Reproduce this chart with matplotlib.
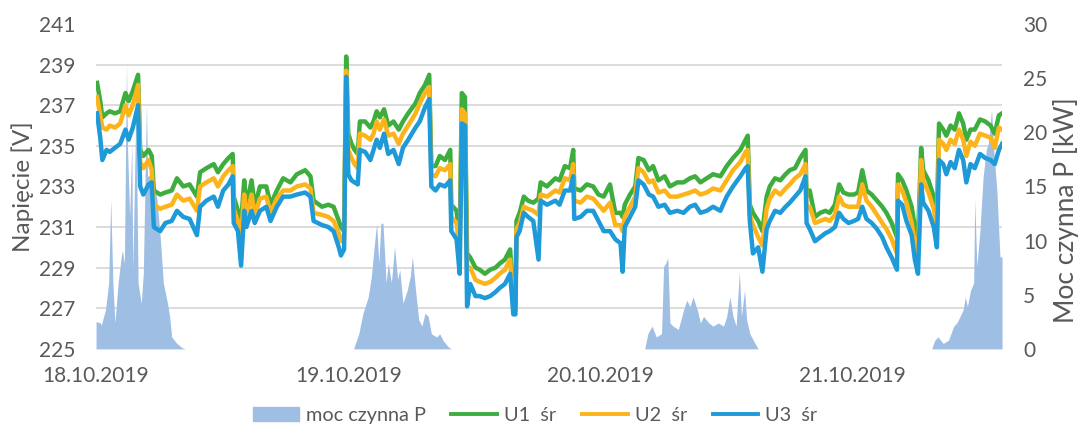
import numpy as np
import matplotlib
matplotlib.use('Agg')
import matplotlib.pyplot as plt
from matplotlib.ticker import MultipleLocator
from matplotlib.patches import Patch
from matplotlib.lines import Line2D

plt.rcParams['font.family'] = ['Lato', 'DejaVu Sans']

# time in hours from 18.10.2019 00:00
t_u = [0.1, 0.4, 0.6, 1.0, 1.3, 1.8, 2.3, 2.8, 3.1, 3.5, 4.0, 4.2, 4.5, 5.0, 5.3, 5.5,
       6.1, 6.6, 7.2, 7.7, 8.3, 8.9, 9.6, 9.9, 10.5, 11.2, 11.6, 12.1, 12.6, 13.0, 13.1,
       13.5, 13.8, 14.1, 14.3, 14.8, 15.1, 15.6, 16.2, 16.6, 17.2, 17.8, 18.5, 19.1, 19.9,
       20.4, 20.7, 21.5, 22.1, 22.6, 23.1, 23.3, 23.6, 23.8, 24.0, 24.3, 24.6, 24.9, 25.1,
       25.6, 26.1, 26.4, 26.7, 27.0, 27.4, 27.8, 28.3, 28.8, 29.2, 29.7, 30.4, 30.8, 31.3,
       31.7, 31.9, 32.3, 32.7, 33.2, 33.7, 33.8, 34.3, 34.6, 34.8, 35.1, 35.3, 35.6, 36.1,
       36.5, 37.0, 37.5, 38.0, 38.4, 38.9, 39.4, 39.7, 39.9, 40.0, 40.3, 40.7, 41.1, 41.6,
       42.1, 42.3, 42.9, 43.7, 44.1, 44.6, 45.1, 45.4, 45.5, 46.1, 46.7, 47.3, 47.8, 48.3,
       48.9, 49.4, 49.9, 50.1, 50.3, 50.8, 51.3, 51.6, 52.1, 52.6, 53.0, 53.5, 54.1, 54.6,
       55.3, 55.9, 56.5, 57.0, 57.5, 58.1, 58.7, 59.4, 60.0, 60.6, 61.3, 61.8, 62.0, 62.2,
       62.5, 63.0, 63.4, 63.8, 64.1, 64.6, 65.1, 65.6, 66.0, 66.5, 67.0, 67.5, 67.6, 67.9,
       68.4, 68.9, 69.4, 69.8, 70.3, 70.7, 71.1, 71.6, 72.1, 72.5, 72.9, 73.3, 73.8, 74.3,
       74.8, 75.2, 75.7, 76.2, 76.3, 76.7, 77.1, 77.6, 77.9, 78.2, 78.5, 78.7, 79.2, 79.7,
       80.0, 80.2, 80.6, 80.9, 81.3, 81.7, 82.1, 82.5, 82.8, 83.2, 83.6, 84.1, 84.6, 85.1,
       85.5, 85.9, 86.2]

u1 = [238.1, 237.2, 236.4, 236.6, 236.7, 236.6, 236.7, 237.6, 237.2, 237.7, 238.5, 234.8,
      234.5, 234.8, 234.5, 232.8, 232.6, 232.7, 232.8, 233.4, 233.0, 233.1, 232.5, 233.7,
      233.9, 234.1, 233.7, 234.1, 234.4, 234.6, 232.5, 231.8, 231.2, 233.3, 232.0, 233.3,
      232.0, 233.0, 233.0, 232.1, 232.8, 233.4, 233.2, 233.6, 233.8, 233.5, 232.3, 232.0,
      232.1, 232.0, 231.3, 231.0, 230.8, 239.4, 235.6, 235.1, 234.8, 234.6, 236.2, 236.2,
      235.9, 236.2, 236.7, 236.4, 236.8, 236.0, 236.2, 235.8, 236.2, 236.6, 237.1, 237.6,
      238.0, 238.5, 234.0, 234.0, 234.5, 234.3, 234.8, 232.1, 231.8, 230.5, 237.6, 237.4,
      229.7, 229.5, 229.0, 228.9, 228.7, 228.9, 229.0, 229.2, 229.4, 229.9, 227.3, 227.2,
      231.3, 231.7, 232.5, 232.3, 232.2, 232.4, 233.2, 233.0, 233.4, 233.3, 234.0, 233.9,
      234.8, 232.9, 232.8, 233.1, 233.0, 232.6, 232.5, 233.1, 231.7, 231.7, 231.5, 232.1,
      232.6, 233.0, 234.4, 234.3, 233.8, 234.0, 233.3, 233.5, 233.0, 233.2, 233.2, 233.4,
      233.5, 233.2, 233.4, 233.6, 233.5, 234.0, 234.4, 234.8, 235.3, 235.5, 232.1, 231.7,
      231.3, 230.8, 232.5, 233.0, 233.4, 233.3, 233.6, 233.8, 233.9, 234.4, 234.8, 232.5,
      232.8, 231.5, 231.7, 231.8, 231.7, 232.1, 233.1, 232.7, 232.6, 232.6, 232.7, 233.8,
      232.8, 232.6, 232.3, 232.0, 231.7, 231.2, 230.5, 233.6, 233.3, 232.8, 232.0, 231.0,
      230.4, 234.9, 233.8, 233.3, 232.5, 231.5, 236.1, 235.8, 235.5, 236.0, 235.8, 236.6,
      236.1, 235.3, 235.8, 235.8, 236.3, 236.2, 236.0, 235.6, 236.5, 236.6]

u2 = [237.4, 236.5, 235.9, 235.8, 236.0, 235.9, 236.1, 237.0, 236.5, 237.0, 238.0, 234.2,
      233.9, 234.3, 233.8, 232.1, 231.9, 232.0, 232.1, 232.6, 232.3, 232.4, 231.8, 233.0,
      233.2, 233.4, 233.0, 233.5, 233.8, 234.0, 231.9, 231.3, 230.6, 232.6, 231.5, 232.6,
      231.6, 232.4, 232.5, 231.7, 232.4, 232.8, 232.8, 233.0, 233.1, 232.9, 231.7, 231.6,
      231.5, 231.3, 230.7, 230.3, 230.4, 238.7, 234.8, 234.4, 234.1, 233.9, 235.6, 235.5,
      235.3, 235.6, 236.2, 235.8, 236.3, 235.5, 235.6, 235.1, 235.6, 236.0, 236.6, 237.1,
      237.6, 237.9, 233.6, 233.5, 233.9, 233.8, 234.1, 231.5, 231.2, 229.8, 236.8, 236.6,
      229.0, 229.0, 228.4, 228.3, 228.2, 228.3, 228.5, 228.7, 228.9, 229.4, 227.0, 226.9,
      230.9, 231.2, 232.0, 231.9, 231.8, 231.6, 232.6, 232.5, 232.8, 232.7, 233.4, 233.3,
      234.1, 232.3, 232.2, 232.5, 232.4, 232.1, 231.8, 232.2, 231.1, 231.1, 230.8, 231.5,
      232.0, 232.5, 233.9, 233.7, 233.2, 233.3, 232.7, 232.8, 232.5, 232.5, 232.6, 232.7,
      232.8, 232.6, 232.7, 232.9, 232.8, 233.3, 233.8, 234.2, 234.7, 234.8, 231.6, 231.1,
      230.5, 230.1, 231.9, 232.4, 232.8, 232.6, 232.9, 233.1, 233.4, 233.6, 234.1, 231.9,
      232.0, 231.2, 231.3, 231.4, 231.3, 231.6, 232.5, 232.1, 232.0, 232.0, 232.0, 233.1,
      232.3, 232.0, 231.6, 231.2, 230.9, 230.4, 229.7, 233.1, 232.8, 232.2, 231.2, 230.2,
      229.6, 234.3, 233.3, 232.7, 231.9, 230.9, 235.3, 235.1, 234.8, 235.3, 235.1, 235.8,
      235.3, 234.5, 235.2, 235.0, 235.6, 235.5, 235.4, 234.9, 235.9, 235.8]

u3 = [236.6, 235.4, 234.3, 234.8, 234.7, 234.9, 235.1, 235.8, 235.3, 235.9, 237.0, 233.0,
      232.6, 233.1, 233.2, 231.0, 230.8, 231.2, 231.3, 231.8, 231.5, 231.4, 230.6, 232.0,
      232.3, 232.5, 232.0, 232.8, 233.1, 233.5, 231.2, 230.8, 229.1, 231.8, 231.0, 231.8,
      231.2, 231.8, 232.0, 231.3, 232.0, 232.5, 232.5, 232.6, 232.7, 232.5, 231.3, 231.1,
      231.0, 230.8, 230.0, 229.6, 229.9, 238.4, 233.6, 233.3, 233.2, 233.1, 234.8, 234.7,
      234.3, 234.8, 235.3, 234.9, 235.6, 234.6, 234.8, 234.1, 234.9, 235.3, 235.9, 236.2,
      236.9, 237.3, 233.0, 232.8, 233.1, 233.0, 233.3, 230.8, 230.4, 228.7, 236.1, 236.0,
      227.1, 228.2, 227.6, 227.6, 227.5, 227.6, 227.8, 228.0, 228.2, 228.7, 226.7, 226.7,
      230.5, 230.8, 231.7, 231.5, 231.3, 229.4, 232.3, 232.1, 232.3, 232.1, 232.8, 232.8,
      233.5, 231.4, 231.5, 231.8, 231.8, 231.3, 230.8, 230.8, 230.4, 230.2, 228.8, 231.0,
      231.5, 232.0, 233.3, 233.1, 232.6, 232.5, 232.0, 232.1, 231.7, 231.8, 231.7, 232.0,
      232.1, 231.7, 231.8, 232.0, 231.8, 232.5, 233.0, 233.5, 233.9, 234.0, 231.3, 229.7,
      230.0, 228.8, 230.9, 231.3, 231.8, 231.7, 232.0, 232.2, 232.5, 232.8, 233.5, 231.2,
      230.9, 230.3, 230.5, 230.7, 230.8, 231.0, 231.7, 231.4, 231.2, 231.3, 231.4, 232.0,
      231.4, 231.2, 230.9, 230.5, 230.0, 229.5, 228.9, 232.3, 232.1, 231.3, 230.6, 229.4,
      228.7, 233.1, 232.2, 231.8, 231.0, 230.0, 234.3, 234.1, 233.6, 234.2, 233.9, 234.8,
      234.3, 233.2, 234.1, 233.9, 234.6, 234.4, 234.3, 234.1, 234.8, 235.1]

t_p = [0.0, 0.1, 0.4, 0.5, 0.9, 1.2, 1.4, 1.6, 1.8, 2.1, 2.4, 2.5, 2.7, 2.9, 3.0, 3.2, 3.4,
       3.5, 3.8, 4.0, 4.3, 4.5, 4.8, 4.9, 5.3, 5.8, 6.1, 6.4, 6.8, 7.0, 7.2, 7.7, 8.2, 8.5,
       24.5, 25.0, 25.4, 25.9, 26.2, 26.5, 26.7, 26.9, 27.1, 27.3, 27.6, 27.8, 28.1, 28.4,
       28.7, 28.9, 29.2, 29.6, 29.9, 30.1, 30.4, 30.7, 31.0, 31.3, 31.6, 31.9, 32.4, 32.7,
       33.0, 33.5, 33.8,
       52.2, 52.5, 52.9, 53.3, 53.8, 54.0, 54.2, 54.4, 54.6, 54.9, 55.4, 55.9, 56.2, 56.5,
       56.8, 57.2, 57.5, 57.8, 58.3, 58.7, 59.2, 59.7, 60.0, 60.3, 60.6, 60.9, 61.2, 61.4,
       61.7, 61.9, 62.2, 62.7, 63.0,
       79.5, 79.8, 80.1, 80.6, 81.1, 81.6, 81.9, 82.2, 82.5, 82.7, 82.9, 83.2, 83.5, 83.6,
       83.8, 84.1, 84.4, 84.7, 84.9, 85.2, 85.4, 85.7, 86.0, 86.2]

p = [2.5, 2.5, 2.4, 2.2, 3.6, 6.1, 13.8, 6.1, 2.4, 6.1, 8.5, 9.1, 7.9, 26.4, 18.4, 12.2, 19.0,
     7.3, 22.6, 6.1, 4.2, 7.0, 22.7, 15.9, 16.2, 13.8, 10.4, 6.1, 4.2, 3.0, 1.1, 0.5, 0.1, 0.0,
     0.0, 1.4, 3.3, 4.8, 6.7, 9.8, 11.6, 7.9, 11.6, 11.6, 6.1, 7.9, 6.1, 9.4,
     6.4, 7.3, 4.2, 5.4, 6.7, 8.5, 5.4, 2.7, 2.1, 3.3, 3.0, 1.4, 1.1, 1.4,
     0.8, 0.2, 0.0,
     0.0, 1.4, 2.1, 1.1, 1.4, 7.6, 7.9, 8.4, 2.4, 2.1, 1.8, 3.6, 4.5, 3.9,
     4.8, 3.6, 2.4, 3.0, 2.4, 2.1, 2.4, 2.1, 3.0, 4.8, 3.0, 2.1, 7.1, 3.0,
     5.4, 2.7, 1.4, 0.5, 0.0,
     0.0, 0.8, 1.1, 0.5, 0.8, 2.1, 2.4, 3.0, 3.6, 4.8, 3.9, 5.4, 6.1, 13.8,
     7.6, 11.0, 15.9, 18.4, 19.0, 22.1, 18.4, 14.7, 8.5, 8.5]

day_ticks = [0, 24, 48, 72]
day_labels = ['18.10.2019', '19.10.2019', '20.10.2019', '21.10.2019']

grey = '#595959'
c_area = '#9EBEE4'
c_u1 = '#3DAE3E'
c_u2 = '#FDB31A'
c_u3 = '#1E9AD8'

fig = plt.figure(figsize=(10.79, 4.26), dpi=100)
ax = fig.add_axes([0.089, 0.181, 0.8397, 0.7627])
ax2 = ax.twinx()

# power area on the bottom axes (right scale), grid drawn here so it stays under the area
ax.fill_between(t_p, p, 0, color=c_area, lw=0, zorder=2)
ax.set_ylim(0, 30)
ax.set_xlim(0, 86.2)
ax.yaxis.tick_right()
ax.yaxis.set_major_locator(MultipleLocator(5))
ax.yaxis.set_minor_locator(MultipleLocator(30 / 8))
ax.grid(which='minor', axis='y', color='#D9D9D9', lw=1.3, zorder=0)

# voltages on top (left scale)
lw = 3.2
ax2.plot(t_u, u1, color=c_u1, lw=lw)
ax2.plot(t_u, u2, color=c_u2, lw=lw)
ax2.plot(t_u, u3, color=c_u3, lw=lw)
ax2.set_ylim(225, 241)
ax2.yaxis.tick_left()
ax2.set_yticks(np.arange(225, 242, 2))

ax.set_xticks(day_ticks)
ax.set_xticklabels(day_labels)

for a in (ax, ax2):
    for s in a.spines.values():
        s.set_visible(False)
    a.tick_params(which='both', length=0, colors=grey, labelsize=15)
ax.tick_params(axis='x', pad=12)
ax.tick_params(axis='y', pad=15)
ax2.tick_params(axis='y', pad=15)

fig.text(0.021, 0.561, 'Napięcie [V]', rotation=90, ha='center', va='center',
         color=grey, fontsize=17.5)
fig.text(0.988, 0.507, 'Moc czynna P [kW]', rotation=90, ha='center', va='center',
         color=grey, fontsize=19)

handles = [Patch(color=c_area),
           Line2D([], [], color=c_u1, lw=2.8),
           Line2D([], [], color=c_u2, lw=2.8),
           Line2D([], [], color=c_u3, lw=2.8)]
labels = ['moc czynna P', 'U1  śr', 'U2  śr', 'U3  śr']
fig.legend(handles, labels, loc='center', bbox_to_anchor=(0.496, 0.024), ncol=4,
           frameon=False, fontsize=14.3, labelcolor=grey, handlelength=2.3,
           handletextpad=0.35, columnspacing=1.3, borderpad=0.1)

fig.savefig('out.png', dpi=100)
